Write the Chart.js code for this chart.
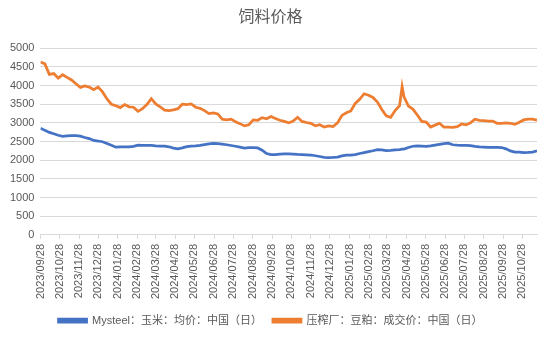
<!DOCTYPE html>
<html>
<head>
<meta charset="utf-8">
<script src="https://cdn.jsdelivr.net/npm/chart.js@4/dist/chart.umd.min.js"></script>
<style>
  html, body { margin: 0; padding: 0; background: #fff; }
  #wrap { width: 550px; height: 338px; }
</style>
</head>
<body>
<div id="wrap"><canvas id="chart"></canvas></div>
<script>
// 周度取样的价格（元/吨）
const dates = [
    '2023-09-28', '2023-10-05', '2023-10-12', '2023-10-19', '2023-10-26', '2023-11-02', '2023-11-09',
    '2023-11-16', '2023-11-23', '2023-11-30', '2023-12-07', '2023-12-14', '2023-12-21', '2023-12-28',
    '2024-01-04', '2024-01-11', '2024-01-18', '2024-01-25', '2024-02-01', '2024-02-08', '2024-02-15',
    '2024-02-22', '2024-02-29', '2024-03-07', '2024-03-14', '2024-03-21', '2024-03-28', '2024-04-04',
    '2024-04-11', '2024-04-18', '2024-04-25', '2024-05-02', '2024-05-09', '2024-05-16', '2024-05-23',
    '2024-05-30', '2024-06-06', '2024-06-13', '2024-06-20', '2024-06-27', '2024-07-04', '2024-07-11',
    '2024-07-18', '2024-07-25', '2024-08-01', '2024-08-08', '2024-08-15', '2024-08-22', '2024-08-29',
    '2024-09-05', '2024-09-12', '2024-09-19', '2024-09-26', '2024-10-03', '2024-10-10', '2024-10-17',
    '2024-10-24', '2024-10-31', '2024-11-07', '2024-11-14', '2024-11-21', '2024-11-28', '2024-12-05',
    '2024-12-12', '2024-12-19', '2024-12-26', '2025-01-02', '2025-01-09', '2025-01-16', '2025-01-23',
    '2025-01-30', '2025-02-06', '2025-02-13', '2025-02-20', '2025-02-27', '2025-03-06', '2025-03-13',
    '2025-03-20', '2025-03-27', '2025-04-03', '2025-04-10', '2025-04-17', '2025-04-21', '2025-04-24',
    '2025-05-01', '2025-05-08', '2025-05-15', '2025-05-22', '2025-05-29', '2025-06-05', '2025-06-12',
    '2025-06-19', '2025-06-26', '2025-07-03', '2025-07-10', '2025-07-17', '2025-07-24', '2025-07-31',
    '2025-08-07', '2025-08-14', '2025-08-21', '2025-08-28', '2025-09-04', '2025-09-11', '2025-09-18',
    '2025-09-25', '2025-10-02', '2025-10-09', '2025-10-16', '2025-10-23', '2025-10-30', '2025-11-06',
    '2025-11-13', '2025-11-20'
];

const cornPrices = [
    2860, 2800, 2745, 2710, 2670, 2640, 2655, 2660, 2660, 2645, 2610, 2580, 2530, 2515,
    2495, 2450, 2400, 2350, 2355, 2360, 2355, 2370, 2405, 2400, 2400, 2395, 2385, 2380,
    2380, 2360, 2325, 2305, 2330, 2365, 2375, 2385, 2400, 2420, 2440, 2450, 2445, 2430,
    2415, 2395, 2375, 2350, 2325, 2335, 2340, 2330, 2270, 2180, 2150, 2150, 2165, 2170,
    2170, 2165, 2155, 2150, 2145, 2140, 2120, 2100, 2080, 2070, 2075, 2085, 2115, 2135,
    2140, 2150, 2180, 2205, 2230, 2255, 2285, 2280, 2260, 2265, 2275, 2285, 2295, 2300,
    2340, 2375, 2385, 2380, 2370, 2385, 2405, 2425, 2445, 2455, 2415, 2405, 2400, 2395,
    2390, 2370, 2355, 2350, 2345, 2345, 2345, 2340, 2305, 2250, 2220, 2215, 2205, 2210,
    2220, 2255
];

const mealPrices = [
    4630, 4580, 4300, 4320, 4200, 4290, 4220, 4150, 4050, 3950, 3990, 3960, 3890, 3960,
    3830, 3640, 3500, 3460, 3410, 3490, 3430, 3420, 3310, 3380, 3490, 3650, 3510, 3430,
    3340, 3330, 3350, 3380, 3500, 3490, 3510, 3420, 3390, 3330, 3250, 3270, 3240, 3100,
    3080, 3100, 3030, 2980, 2920, 2950, 3080, 3070, 3140, 3110, 3170, 3120, 3070, 3040,
    3000, 3050, 3150, 3040, 3010, 2990, 2920, 2950, 2890, 2920, 2900, 3000, 3200, 3270,
    3320, 3520, 3630, 3780, 3740, 3680, 3560, 3360, 3190, 3150, 3330, 3460, 3970, 3700,
    3450, 3370, 3210, 3040, 3020, 2890, 2940, 2990, 2890, 2890, 2880, 2900, 2970, 2950,
    3000, 3100, 3070, 3060, 3050, 3050, 2990, 2990, 3000, 2990, 2960, 3020, 3080, 3100,
    3100, 3070
];

const tickLabels = [
    '2023/09/28', '2023/10/28', '2023/11/28', '2023/12/28', '2024/01/28', '2024/02/28',
    '2024/03/28', '2024/04/28', '2024/05/28', '2024/06/28', '2024/07/28', '2024/08/28',
    '2024/09/28', '2024/10/28', '2024/11/28', '2024/12/28', '2025/01/28', '2025/02/28',
    '2025/03/28', '2025/04/28', '2025/05/28', '2025/06/28', '2025/07/28', '2025/08/28',
    '2025/09/28', '2025/10/28'
];

const startDay = Date.UTC(2023, 8, 28);
function dayOf(s) {
    const [y, m, d] = s.split(/[-\/]/).map(Number);
    return (Date.UTC(y, m - 1, d) - startDay) / 86400000;
}

const gridColor = '#D9D9D9';
const textColor = '#595959';
const fontFamily = '"Liberation Sans", "Noto Sans CJK SC", sans-serif';

const ctx = document.getElementById('chart').getContext('2d');
const chart = new Chart(ctx, {
    type: 'line',
    data: {
        datasets: [{
            label: 'Mysteel：玉米：均价：中国（日）',
            data: dates.map((d, i) => ({ x: dayOf(d), y: cornPrices[i] })),
            borderColor: '#4472C4',
            backgroundColor: '#4472C4',
            borderWidth: 2.75,
            pointRadius: 0,
            tension: 0
        }, {
            label: '压榨厂：豆粕：成交价：中国（日）',
            data: dates.map((d, i) => ({ x: dayOf(d), y: mealPrices[i] })),
            borderColor: '#ED7D31',
            backgroundColor: '#ED7D31',
            borderWidth: 2.75,
            pointRadius: 0,
            tension: 0
        }]
    },
    options: {
        responsive: true,
        maintainAspectRatio: false,
        animation: false,
        layout: { padding: { left: 4, right: 13, top: 4, bottom: 2 } },
        plugins: {
            title: {
                display: true,
                text: '饲料价格',
                color: textColor,
                font: { family: fontFamily, size: 16, weight: 'normal' },
                padding: { top: 4, bottom: 21 }
            },
            legend: {
                position: 'bottom',
                labels: {
                    color: textColor,
                    font: { family: fontFamily, size: 11 },
                    boxWidth: 28,
                    boxHeight: 3,
                    padding: 11
                }
            },
            tooltip: { enabled: false }
        },
        scales: {
            x: {
                type: 'linear',
                min: 0,
                max: dayOf('2025-11-20'),
                afterBuildTicks: scale => {
                    scale.ticks = tickLabels.map(t => ({ value: dayOf(t) }));
                },
                ticks: {
                    autoSkip: false,
                    minRotation: 90,
                    maxRotation: 90,
                    color: textColor,
                    font: { family: fontFamily, size: 11 },
                    padding: 5,
                    callback: (v, i) => tickLabels[i]
                },
                grid: {
                    drawOnChartArea: false,
                    drawTicks: true,
                    tickLength: 4,
                    color: gridColor
                },
                border: { color: gridColor }
            },
            y: {
                min: 0,
                max: 5000,
                ticks: {
                    stepSize: 500,
                    color: textColor,
                    font: { family: fontFamily, size: 11 },
                    padding: 6,
                    callback: v => String(v)
                },
                grid: { color: gridColor, drawTicks: false },
                border: { display: false }
            }
        }
    }
});
</script>
</body>
</html>
